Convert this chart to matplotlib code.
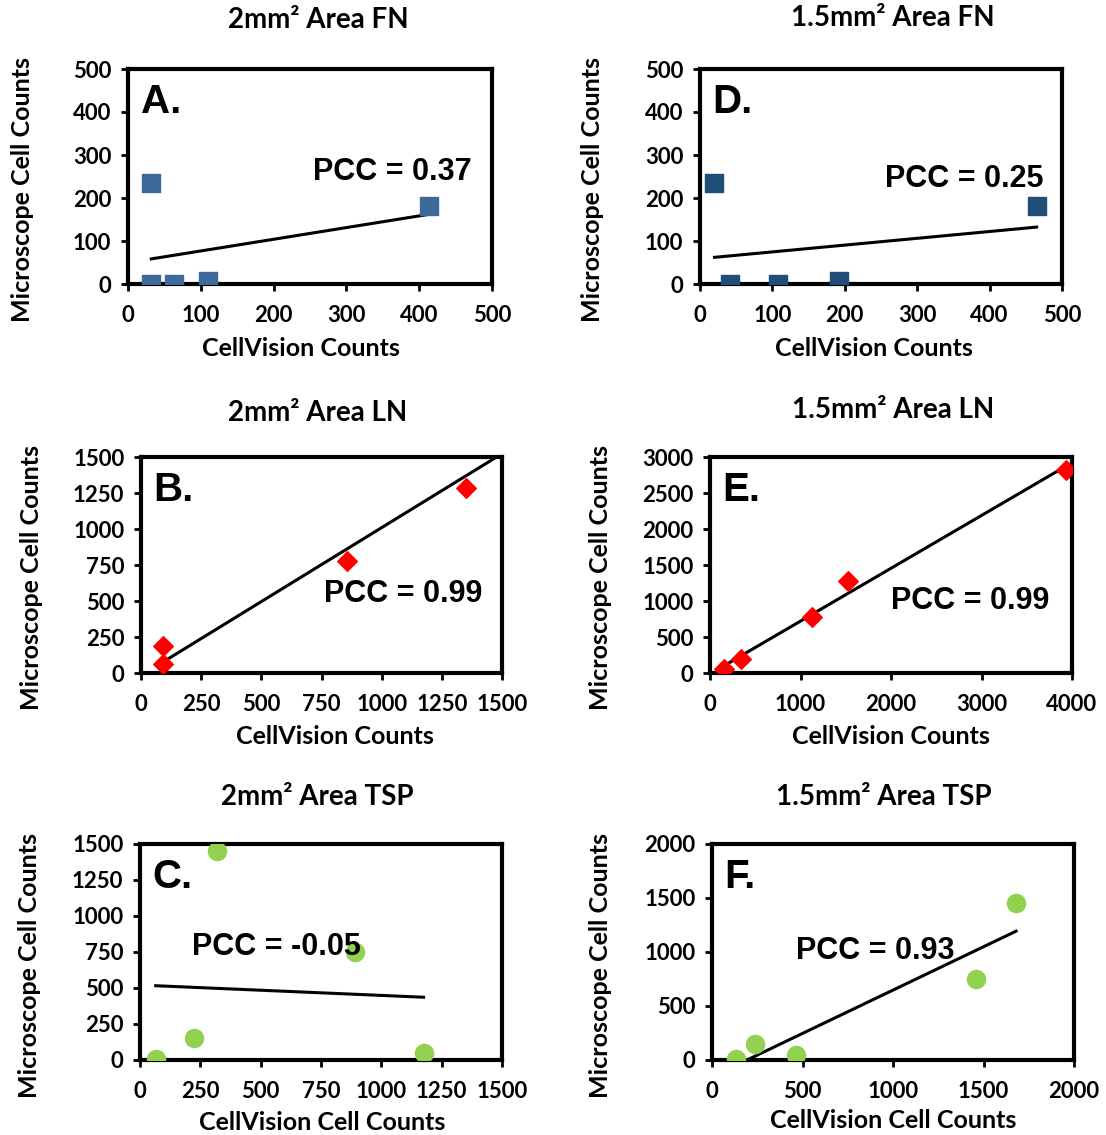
import numpy as np
import matplotlib
matplotlib.use('Agg')
import matplotlib.pyplot as plt

plt.rcParams['font.family'] = ['Lato', 'DejaVu Sans']
plt.rcParams['font.weight'] = 'bold'

# data
fn2_x = [32, 32, 63, 110, 413]
fn2_y = [235, 0, 0, 8, 182]
fn15_x = [20, 42, 108, 192, 465]
fn15_y = [235, 0, 0, 8, 182]
ln2_x = [90, 90, 855, 1350, 2700]      # last point lies outside the axis range
ln2_y = [190, 60, 780, 1285, 2820]
ln15_x = [150, 340, 1130, 1530, 3930]
ln15_y = [60, 190, 780, 1280, 2820]
tsp2_x = [65, 225, 320, 890, 1175]
tsp2_y = [10, 150, 1450, 750, 50]
tsp15_x = [130, 235, 465, 1460, 1680]
tsp15_y = [10, 150, 50, 750, 1450]

titles = ['2mm\u00b2 Area FN', '1.5mm\u00b2 Area FN',
          '2mm\u00b2 Area LN', '1.5mm\u00b2 Area LN',
          '2mm\u00b2 Area TSP', '1.5mm\u00b2 Area TSP']
letters = ['A.', 'D.', 'B.', 'E.', 'C.', 'F.']
pcc_text = ['PCC = 0.37', 'PCC = 0.25', 'PCC = 0.99', 'PCC = 0.99',
            'PCC = -0.05', 'PCC = 0.93']
xlabels = ['CellVision Counts'] * 4 + ['CellVision Cell Counts'] * 2
ylabel = 'Microscope Cell Counts'

W, H = 1106, 1135
fig = plt.figure(figsize=(W / 100, H / 100), dpi=100)

def px_axes(l, r, t, b):
    return fig.add_axes([l / W, 1 - b / H, (r - l) / W, (b - t) / H])

panels = [
    dict(box=(128, 492, 69, 284), x=fn2_x, y=fn2_y, xlim=500, ylim=500, xt=100, yt=100,
         m='s', s=170, c='#3D6A98', pcc=(0.725, 0.52), ylx=22, yly=190, xlx=301, xly=348,
         title=(318, 20)),
    dict(box=(700, 1062, 69, 284), x=fn15_x, y=fn15_y, xlim=500, ylim=500, xt=100, yt=100,
         m='s', s=170, c='#1F4E79', pcc=(0.73, 0.49), ylx=592, yly=190, xlx=874, xly=348,
         title=(893, 18)),
    dict(box=(141, 502, 457, 673), x=ln2_x, y=ln2_y, xlim=1500, ylim=1500, xt=250, yt=250,
         m='D', s=100, c='#FF0000', pcc=(0.726, 0.366), ylx=32, yly=578, xlx=335, xly=736,
         title=(318, 413)),
    dict(box=(710, 1072, 457, 673), x=ln15_x, y=ln15_y, xlim=4000, ylim=3000, xt=1000, yt=500,
         m='D', s=100, c='#FF0000', pcc=(0.718, 0.333), ylx=601, yly=578, xlx=891, xly=736,
         title=(893, 410)),
    dict(box=(140, 502, 844, 1060), x=tsp2_x, y=tsp2_y, xlim=1500, ylim=1500, xt=250, yt=250,
         m='o', s=170, c='#92D050', pcc=(0.378, 0.523), ylx=30, yly=965, xlx=322, xly=1122,
         title=(317, 797)),
    dict(box=(712, 1074, 844, 1060), x=tsp15_x, y=tsp15_y, xlim=2000, ylim=2000, xt=500, yt=500,
         m='o', s=170, c='#92D050', pcc=(0.45, 0.505), ylx=601, yly=965, xlx=893, xly=1121,
         title=(884, 797)),
]

for i, p in enumerate(panels):
    ax = px_axes(*p['box'])
    x = np.array(p['x'], dtype=float)
    y = np.array(p['y'], dtype=float)
    ax.scatter(x, y, marker=p['m'], s=p['s'], color=p['c'], zorder=3, clip_on=True)
    k, b0 = np.polyfit(x, y, 1)
    xs = np.array([x.min(), x.max()])
    ax.plot(xs, k * xs + b0, color='black', lw=2.2, zorder=2)
    ax.set_xlim(0, p['xlim'])
    ax.set_ylim(0, p['ylim'])
    ax.set_xticks(np.arange(0, p['xlim'] + 1, p['xt']))
    ax.set_yticks(np.arange(0, p['ylim'] + 1, p['yt']))
    ax.tick_params(direction='out', length=5, width=2, labelsize=16)
    ax.tick_params(axis='x', pad=10)
    ax.tick_params(axis='y', pad=7)
    for lab in ax.get_xticklabels() + ax.get_yticklabels():
        lab.set_fontweight('bold')
    for sp in ax.spines.values():
        sp.set_linewidth(3)
    l, r, t, b = p['box']
    ax.set_xlabel(xlabels[i], fontsize=18, fontweight='bold', va='center')
    ax.set_ylabel(ylabel, fontsize=18, fontweight='bold', va='center')
    ax.xaxis.set_label_coords((p['xlx'] - l) / (r - l), (b - p['xly']) / (b - t))
    ax.yaxis.set_label_coords((p['ylx'] - l) / (r - l), (b - p['yly']) / (b - t))
    ax.text(0.035, 0.845, letters[i], transform=ax.transAxes, fontsize=29,
            fontweight='bold', ha='left', va='center', family=['Liberation Sans', 'DejaVu Sans'])
    ax.text(p['pcc'][0], p['pcc'][1], pcc_text[i], transform=ax.transAxes, fontsize=22,
            fontweight='bold', ha='center', va='center', family=['Liberation Sans', 'DejaVu Sans'])
    tx, ty = p['title']
    fig.text(tx / W, 1 - ty / H, titles[i], fontsize=20, fontweight='bold',
             ha='center', va='center')

fig.savefig('out.png', dpi=100)
